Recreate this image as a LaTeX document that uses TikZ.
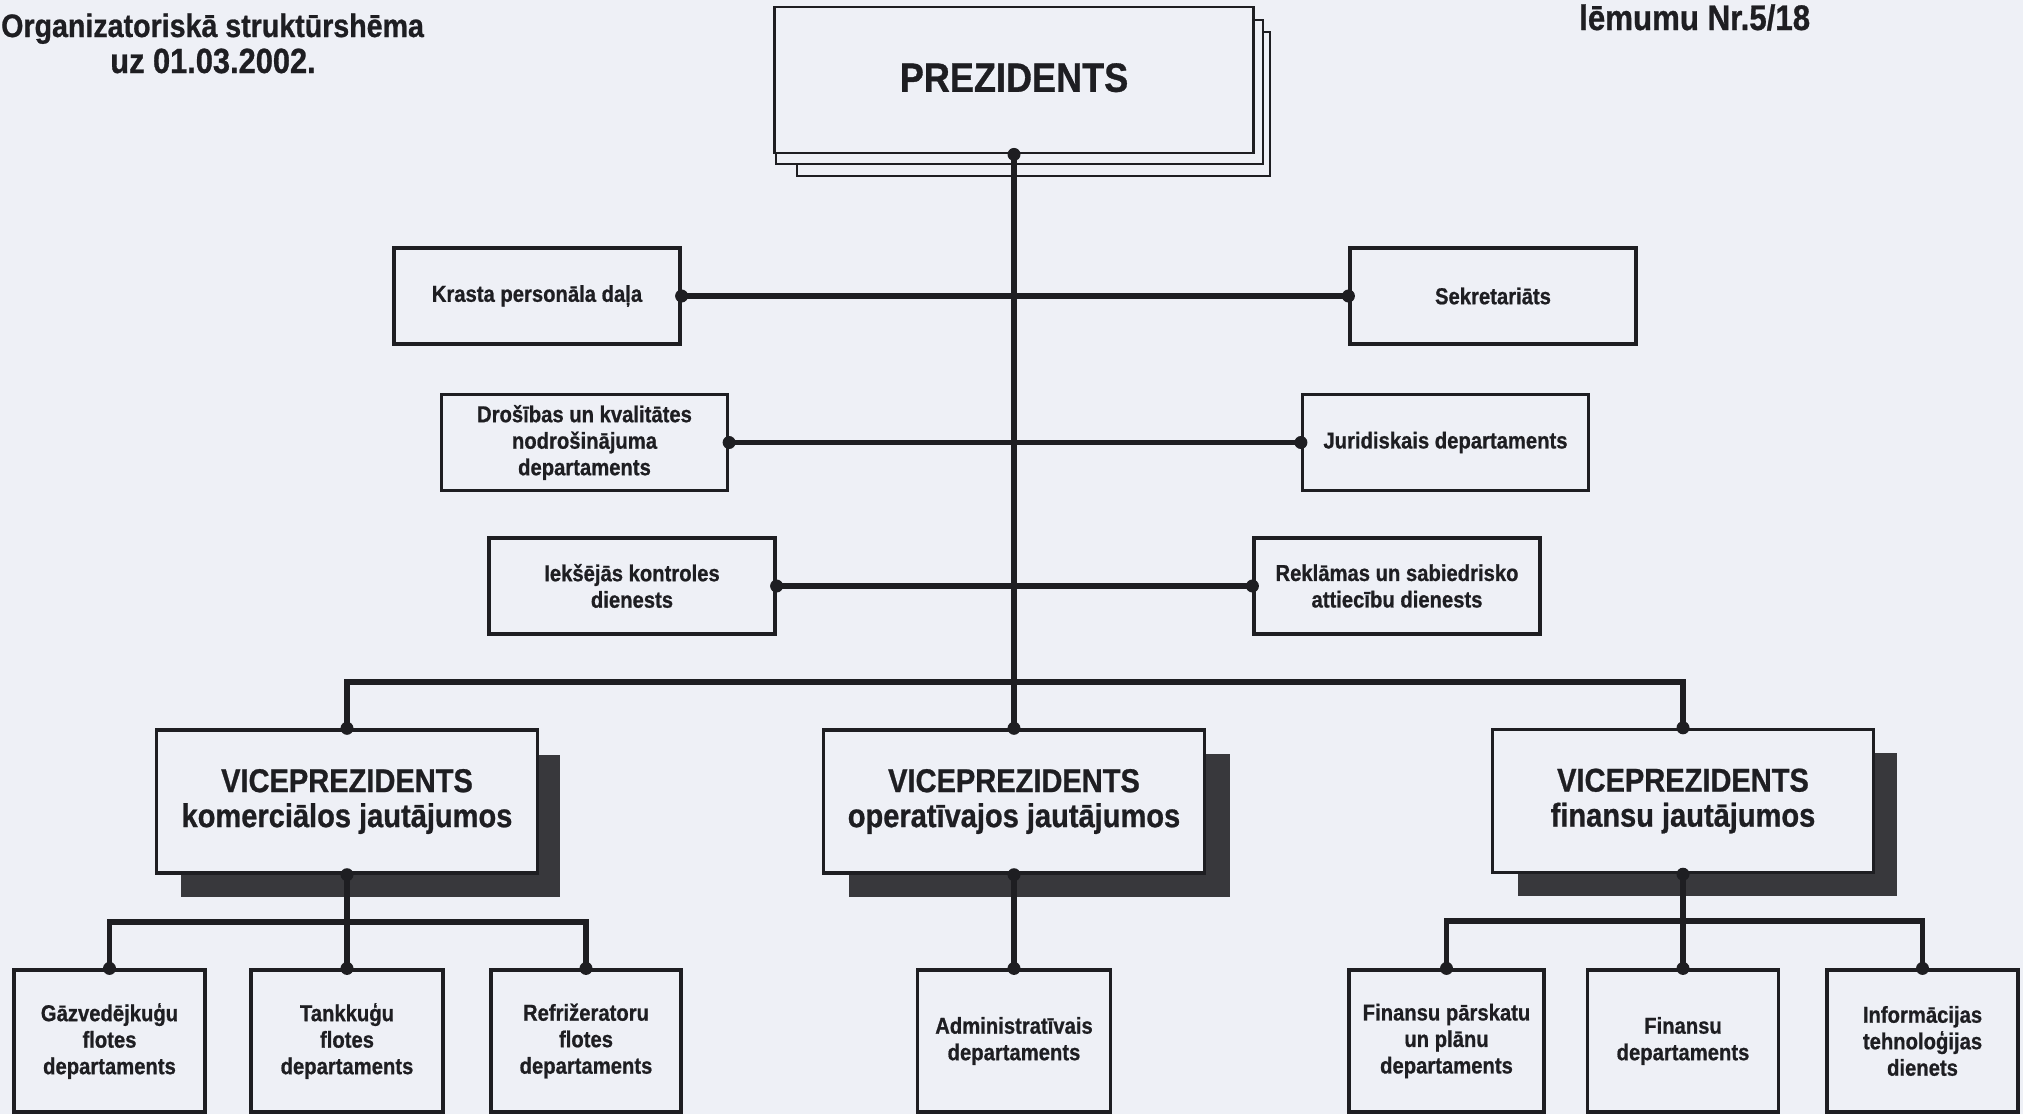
\documentclass[tikz,border=0pt]{standalone}
\usepackage{fontspec}
\setmainfont{Liberation Sans}[FakeStretch=0.88, BoldFeatures={FakeBold=0.8}]
\usetikzlibrary{calc}
\definecolor{paper}{RGB}{238,240,246}
\definecolor{ink}{RGB}{30,30,34}
\definecolor{shade}{RGB}{56,56,60}
\newcommand\jdot[1]{\fill[ink] (#1) circle (6.5pt);}
\begin{document}
\begin{tikzpicture}[x=1pt,y=-1pt,
  box/.style={draw=ink, line width=3.2pt, fill=paper, rectangle, align=center, inner sep=0pt, text=ink, font=\bfseries\fontsize{23}{26.5}\selectfont},
  midbox/.style={box, minimum width=286pt, minimum height=96pt},
  childbox/.style={box, minimum height=142pt},
  vpbox/.style={box, line width=3.4pt, minimum width=381pt, minimum height=143pt, font=\bfseries\fontsize{33}{35}\selectfont},
  stackbox/.style={draw=ink, line width=2.8pt, fill=paper},
  shadowbox/.style={fill=shade},
  conn/.style={draw=ink, line width=5.5pt},
  titletext/.style={text=ink, inner sep=0pt, font=\bfseries\fontsize{35}{35}\selectfont}
]
\useasboundingbox (0,0) rectangle (2023,1114);
\clip (0,0) rectangle (2023,1114);
\fill[paper] (0,0) rectangle (2023,1114);

% titles
\node[titletext, anchor=base west, font=\bfseries\fontsize{32.5}{32.5}\selectfont] (title1) at (1,37) {Organizatoriskā struktūrshēma};
\node[titletext, anchor=base] (title2) at (213,73) {uz 01.03.2002.};
\node[titletext, anchor=base west, font=\bfseries\fontsize{35.5}{35.5}\selectfont] (lemums) at (1579,30) {lēmumu Nr.5/18};

% president stack
\draw[stackbox] (797,32) rectangle (1270,176);
\draw[stackbox] (776,20) rectangle (1263,164);
\node[box, line width=2.8pt, minimum width=479pt, minimum height=146pt, font=\bfseries\fontsize{41}{41}\selectfont] (pres) at (1014,80) {\raisebox{5pt}{PREZIDENTS}};

% staff boxes
\node[midbox] (krasta) at (537,296) {Krasta personāla daļa};
\node[midbox] (sekr) at (1493,296) {Sekretariāts};
\node[midbox] (dros) at (584.5,442.5) {Drošības un kvalitātes\\nodrošinājuma\\departaments};
\node[midbox] (jur) at (1445.5,442.5) {Juridiskais departaments};
\node[midbox] (ieks) at (632,586) {Iekšējās kontroles\\dienests};
\node[midbox] (rekl) at (1397,586) {Reklāmas un sabiedrisko\\attiecību dienests};

% vice president shadows
\fill[shadowbox] (181,755) rectangle (560,897);
\fill[shadowbox] (849,754) rectangle (1230,897);
\fill[shadowbox] (1518,753) rectangle (1897,896);

% vice presidents
\node[vpbox] (vp1) at (347,801.5) {VICEPREZIDENTS\\komerciālos jautājumos};
\node[vpbox] (vp2) at (1014,801.5) {VICEPREZIDENTS\\operatīvajos jautājumos};
\node[vpbox] (vp3) at (1683,801) {VICEPREZIDENTS\\finansu jautājumos};

% departments
\node[childbox, minimum width=191pt] (c1) at (109.5,1041) {Gāzvedējkuģu\\flotes\\departaments};
\node[childbox, minimum width=192pt] (c2) at (347,1041) {Tankkuģu\\flotes\\departaments};
\node[childbox, minimum width=190pt] (c3) at (586,1041) {Refrižeratoru\\flotes\\departaments};
\node[childbox, minimum width=193pt] (adm) at (1014,1041) {Administratīvais\\departaments};
\node[childbox, minimum width=195pt] (finp) at (1446.5,1041) {Finansu pārskatu\\un plānu\\departaments};
\node[childbox, minimum width=191pt] (fin) at (1683,1041) {Finansu\\departaments};
\node[childbox, minimum width=191pt] (inf) at (1922.5,1041) {Informācijas\\tehnoloģijas\\dienets};

% connectors
\draw[conn] (pres.south) -- (vp2.north);
\draw[conn] (krasta.east) -- (sekr.west);
\draw[conn] (dros.east) -- (jur.west);
\draw[conn] (ieks.east) -- (rekl.west);
\coordinate (vpbar) at (1014,682);
\draw[conn] (vp1.north) -- (vp1.north |- vpbar) -- (vp3.north |- vpbar) -- (vp3.north);
\coordinate (bar1) at (347,922);
\draw[conn] (vp1.south) -- (c2.north);
\draw[conn] (c1.north) -- (c1.north |- bar1) -- (c3.north |- bar1) -- (c3.north);
\draw[conn] (vp2.south) -- (adm.north);
\coordinate (bar3) at (1683,921);
\draw[conn] (vp3.south) -- (fin.north);
\draw[conn] (finp.north) -- (finp.north |- bar3) -- (inf.north |- bar3) -- (inf.north);

% junction dots
\jdot{pres.south}
\jdot{krasta.east}\jdot{sekr.west}
\jdot{dros.east}\jdot{jur.west}
\jdot{ieks.east}\jdot{rekl.west}
\jdot{vp1.north}\jdot{vp2.north}\jdot{vp3.north}
\jdot{vp1.south}\jdot{vp2.south}\jdot{vp3.south}
\jdot{c1.north}\jdot{c2.north}\jdot{c3.north}
\jdot{adm.north}
\jdot{finp.north}\jdot{fin.north}\jdot{inf.north}
\end{tikzpicture}
\end{document}
